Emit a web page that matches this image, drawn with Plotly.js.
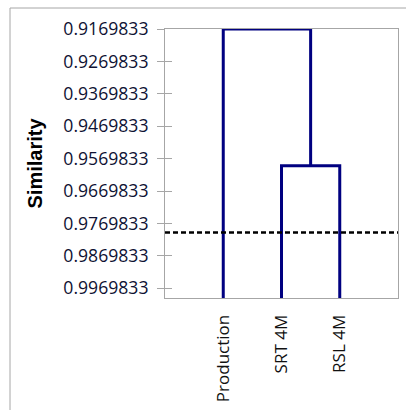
<!DOCTYPE html>
<html>
<head>
<meta charset="utf-8">
<script src="https://cdn.plot.ly/plotly-3.0.1.min.js"></script>
<style>html,body{margin:0;padding:0;background:#fff;}#chart{width:406px;height:410px;}</style>
</head>
<body>
<div id="chart"></div>
<script>
// Leaves of the dendrogram (left to right)
const leaves = ["Production", "SRT 4M", "RSL 4M"];
// Merges: [left member, right member, similarity level]; members are leaf names or "C<n>" for earlier merge n
const mergeLeft = ["SRT 4M", "Production"];
const mergeRight = ["RSL 4M", "C0"];
const mergeLevel = [0.9592, 0.9169833];
// Similarity of a single leaf (base of the tree)
const leafLevel = 1.0;
// Cut-off (dashed) line
const cutLevel = 0.9798;
// Y tick labels
const yTicks = [0.9169833, 0.9269833, 0.9369833, 0.9469833, 0.9569833, 0.9669833, 0.9769833, 0.9869833, 0.9969833];

const navy = "#000080";
function pos(name) {
  if (name.startsWith("C")) {
    const k = parseInt(name.slice(1));
    return { x: (pos(mergeLeft[k]).x + pos(mergeRight[k]).x) / 2, y: mergeLevel[k] };
  }
  return { x: leaves.indexOf(name) + 1, y: leafLevel };
}
const traces = [];
for (let k = 0; k < mergeLevel.length; k++) {
  const a = pos(mergeLeft[k]), b = pos(mergeRight[k]);
  traces.push({
    type: "scatter", mode: "lines",
    x: [a.x, a.x, b.x, b.x],
    y: [a.y, mergeLevel[k], mergeLevel[k], b.y],
    line: { color: navy, width: 3 },
    hoverinfo: "skip", showlegend: false
  });
}
traces.push({
  type: "scatter", mode: "lines",
  x: [0, leaves.length + 1], y: [cutLevel, cutLevel],
  line: { color: "#000", width: 2.5, dash: "5px,3px" },
  hoverinfo: "skip", showlegend: false
});
// invisible trace to carry the inner-tick overlay axis
traces.push({ type: "scatter", mode: "markers", x: [0], y: [leafLevel], yaxis: "y2", marker: { opacity: 0 }, hoverinfo: "skip", showlegend: false });

const grey = "#a6a6a6";
const yRange = [leafLevel, yTicks[0]];
const layout = {
  width: 406, height: 410,
  margin: { l: 165, r: 8, t: 29, b: 112 },
  paper_bgcolor: "#fff", plot_bgcolor: "#fff",
  showlegend: false,
  xaxis: {
    range: [0, leaves.length + 1],
    tickvals: leaves.map((_, i) => i + 1), ticktext: leaves,
    tickangle: -90, ticks: "", showgrid: false, zeroline: false,
    showline: true, mirror: true, linecolor: grey, linewidth: 1,
    tickfont: { family: "Open Sans", size: 17, color: "#111" },
    ticklabelstandoff: 9, fixedrange: true
  },
  yaxis: {
    range: yRange, tickvals: yTicks, ticktext: yTicks.map(v => v.toFixed(7)),
    ticks: "outside", ticklen: 7, tickcolor: grey, tickwidth: 1,
    showgrid: false, zeroline: false,
    showline: true, mirror: true, linecolor: grey, linewidth: 1,
    tickfont: { family: "Open Sans", size: 17.6, color: "#0e1233" },
    ticklabelstandoff: 5,
    title: { text: "Similarity", font: { family: "Liberation Sans, Arial", size: 20, color: "#000", weight: "bold" }, standoff: 15 },
    fixedrange: true
  },
  yaxis2: {
    overlaying: "y", side: "left", range: yRange, tickvals: yTicks,
    showticklabels: false, ticks: "inside", ticklen: 7, tickcolor: grey, tickwidth: 1,
    showgrid: false, zeroline: false, showline: false, fixedrange: true
  },
  shapes: [{
    type: "rect", xref: "paper", yref: "paper",
    x0: (10 - 165) / 233, x1: (420 - 165) / 233,
    y0: (298 - 420) / 269, y1: (298 - 8) / 269,
    line: { color: grey, width: 1 }, fillcolor: "rgba(0,0,0,0)", layer: "below"
  }]
};
Plotly.newPlot("chart", traces, layout, { displayModeBar: false, staticPlot: true });
</script>
</body>
</html>
